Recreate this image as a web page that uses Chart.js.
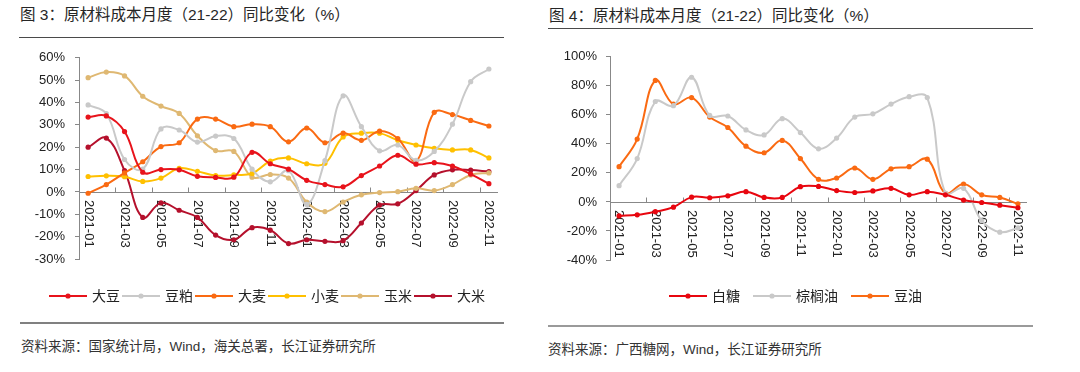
<!DOCTYPE html>
<html>
<head>
<meta charset="utf-8">
<script src="https://cdn.jsdelivr.net/npm/chart.js@4.4.1/dist/chart.umd.min.js"></script>
<style>
  html, body { margin: 0; padding: 0; background: #fff; }
  #wrap { position: relative; width: 1080px; height: 372px; overflow: hidden; background: #fff;
          font-family: "Liberation Sans", "Noto Sans CJK SC", sans-serif; color: #222; }
  .title { position: absolute; font-size: 15.5px; line-height: 20px; white-space: nowrap; color: #262626; }
  .rule { position: absolute; height: 1px; background: #4a4a4a; }
  .sep { position: absolute; height: 2px; background: #808080; }
  .src { position: absolute; font-size: 13.5px; line-height: 18px; white-space: nowrap; color: #333; }
  canvas { position: absolute; }
</style>
</head>
<body>
<div id="wrap">
  <div class="title" style="left:20px; top:5px;">图 3：原材料成本月度（21-22）同比变化（%）</div>
  <div class="rule" style="left:19px; top:37px; width:485px;"></div>
  <div class="title" style="left:549px; top:6px;">图 4：原材料成本月度（21-22）同比变化（%）</div>
  <div class="rule" style="left:548px; top:28px; width:485px;"></div>

  <canvas id="c1" width="540" height="273" style="left:0px; top:40px; width:540px; height:273px;"></canvas>
  <canvas id="c2" width="540" height="273" style="left:540px; top:40px; width:540px; height:273px;"></canvas>

  <div class="sep" style="left:20px; top:322px; width:484px;"></div>
  <div class="sep" style="left:548px; top:325px; width:485px; background:#9a9a9a;"></div>
  <div class="src" style="left:21px; top:338px;">资料来源：国家统计局，Wind，海关总署，长江证券研究所</div>
  <div class="src" style="left:548px; top:341px;">资料来源：广西糖网，Wind，长江证券研究所</div>
</div>
<script>
// ---------- data ----------
const months = ['2021-01','2021-02','2021-03','2021-04','2021-05','2021-06','2021-07','2021-08','2021-09','2021-10','2021-11','2021-12',
                '2022-01','2022-02','2022-03','2022-04','2022-05','2022-06','2022-07','2022-08','2022-09','2022-10','2022-11'];

// Figure 3
const soybean = [33.5, 34, 27, 8.8, 10, 9.9, 7, 6.5, 6.6, 17.7, 12.6, 10.2, 5.2, 3.3, 2.3, 7.3, 11.6, 16.4, 12.4, 13.1, 11.6, 8, 3.7];
const soyMeal = [38.9, 35, 14.5, 10.2, 28.2, 27.7, 22.3, 25, 23.9, 10.2, 4.5, 9.5, -5.6, 14, 43, 29.2, 18.4, 21, 14.1, 18.1, 30.3, 49.3, 55];
const barley  = [-0.6, 3.3, 8.5, 13.5, 20.3, 22, 32.6, 32.6, 29.2, 30.3, 29.2, 22.4, 28.6, 22, 26.3, 23.1, 27.2, 23.9, 13.8, 35.6, 34.6, 32, 29.5];
const wheat   = [6.9, 7.2, 6.8, 4.7, 6.2, 10.6, 9.2, 7.3, 7.6, 8.3, 13.8, 15.2, 12.6, 12.8, 24.6, 26.3, 26.3, 23.1, 21, 19.5, 18.8, 18.8, 15.2];
const corn    = [51.1, 53.6, 51.9, 42.8, 38.4, 35.1, 25.1, 18.5, 18.1, 6.6, 7.8, 6.2, -4.5, -8.8, -4.5, -1.3, -0.3, 0.1, 1.6, 0.6, 3.3, 7.6, 8.5];
const rice    = [20, 24.1, 9.5, -11.4, -4.9, -8.2, -11.4, -19.3, -21.4, -16, -17.1, -23.1, -21.4, -22.1, -21.8, -13.9, -5.9, -5.3, 0.6, 7.6, 9.9, 9.8, 9.1];

// Figure 4
const sugar   = [-9.6, -8.9, -6.7, -3.6, 3.3, 2.9, 4.2, 7.1, 3.1, 3.1, 10.5, 10.7, 7.8, 6.5, 7.6, 9.4, 4.9, 7.1, 4.9, 1.3, -0.4, -2.2, -4];
const palmOil = [11.2, 29.9, 69.2, 66.3, 85.9, 59.6, 59.2, 49.6, 46.2, 57.4, 47.8, 36.6, 44, 58.5, 60.7, 67.4, 72.5, 71.9, 6, 9.4, -12.9, -20.8, -17.9];
const soyOil  = [24.3, 43.3, 83.7, 67.4, 71.9, 58.5, 51.3, 38.4, 33.9, 42.4, 29.9, 15.6, 16.5, 23.4, 15.6, 22.8, 24.3, 29.5, 6, 12.3, 4.9, 3.1, -1.3];

// ---------- helpers ----------
const NUM_FONT = '"Liberation Sans", Arial, sans-serif';
const CJK_FONT = '"Noto Sans CJK SC", "Liberation Sans", sans-serif';

function legendImage(color) {
  const c = document.createElement('canvas');
  c.width = 38; c.height = 10;
  const g = c.getContext('2d');
  g.strokeStyle = color; g.lineWidth = 2;
  g.beginPath(); g.moveTo(0, 5); g.lineTo(38, 5); g.stroke();
  g.fillStyle = color;
  g.beginPath(); g.arc(19, 5, 2.6, 0, Math.PI * 2); g.fill();
  return c;
}

function ds(label, data, color) {
  return {
    label, data,
    borderColor: color, backgroundColor: color,
    borderWidth: 2, tension: 0.4,
    pointRadius: 2.6, pointStyle: 'circle', pointBorderWidth: 0,
    pointBackgroundColor: color, fill: false
  };
}

const catAxisPlugin = {
  id: 'catAxis',
  afterLayout(chart) {
    const dx = chart.options.plugins.catAxis.legendShift || 0;
    if (chart.legend) { chart.legend.left += dx; chart.legend.right += dx; }
  },
  beforeDatasetsDraw(chart) {
    const {ctx, chartArea, scales: {x, y}} = chart;
    const y0 = y.getPixelForValue(0);
    const n = chart.data.labels.length;
    const half = (x.getPixelForValue(1) - x.getPixelForValue(0)) / 2;
    ctx.save();
    ctx.strokeStyle = '#888';
    ctx.lineWidth = 1;
    ctx.beginPath();
    ctx.moveTo(chartArea.left, Math.round(y0) + 0.5);
    ctx.lineTo(chartArea.right, Math.round(y0) + 0.5);
    for (let i = 0; i <= n; i += 2) {
      const bx = Math.round(i < n ? x.getPixelForValue(i) - half : chartArea.right) + 0.5;
      ctx.moveTo(bx, Math.round(y0) + 0.5);
      ctx.lineTo(bx, Math.round(y0) - 4.5);
    }
    ctx.stroke();
    ctx.fillStyle = '#222';
    ctx.font = '13px ' + NUM_FONT;
    ctx.textAlign = 'left';
    ctx.textBaseline = 'middle';
    for (let i = 0; i < n; i += 2) {
      ctx.save();
      ctx.translate(x.getPixelForValue(i), y0 + 8);
      ctx.rotate(Math.PI / 2);
      ctx.fillText(chart.data.labels[i], 0, 0);
      ctx.restore();
    }
    ctx.restore();
  }
};

function makeChart(id, datasets, cfg) {
  const imgs = datasets.map(d => legendImage(d.borderColor));
  return new Chart(document.getElementById(id), {
    type: 'line',
    data: { labels: months, datasets },
    plugins: [catAxisPlugin],
    options: {
      responsive: false,
      animation: false,
      devicePixelRatio: 1,
      layout: { padding: cfg.padding },
      scales: {
        x: {
          type: 'category', offset: true,
          grid: { display: false }, border: { display: false },
          ticks: { display: false },
          afterFit: s => { s.height = cfg.xHeight; }
        },
        y: {
          min: cfg.min, max: cfg.max,
          ticks: { stepSize: cfg.step, callback: v => v + '%', color: '#222',
                   font: { family: NUM_FONT, size: 13 }, padding: cfg.tickPad },
          grid: { drawOnChartArea: false, drawTicks: true, tickLength: 4, color: '#888' },
          border: { display: true, color: '#888', width: 1 },
          afterFit: s => { s.width = cfg.yWidth; }
        }
      },
      plugins: {
        catAxis: { legendShift: cfg.legendShift },
        tooltip: { enabled: false },
        legend: {
          position: 'bottom',
          labels: {
            usePointStyle: true, pointStyleWidth: 34, padding: cfg.legendPad,
            color: '#222', font: { family: CJK_FONT, size: 14 },
            generateLabels: chart => {
              const items = Chart.defaults.plugins.legend.labels.generateLabels(chart);
              items.forEach((it, i) => { it.pointStyle = imgs[i]; });
              return items;
            }
          }
        }
      }
    }
  });
}

makeChart('c1', [
  ds('大豆', soybean, '#E8131B'),
  ds('豆粕', soyMeal, '#C9C9C9'),
  ds('大麦', barley, '#FA6A12'),
  ds('小麦', wheat, '#FFC000'),
  ds('玉米', corn, '#DFB872'),
  ds('大米', rice, '#B5102C')
], { padding: { left: 0, right: 42, top: 11, bottom: 0 }, yWidth: 79, xHeight: 26,
     min: -30, max: 60, step: 10, tickPad: 10, legendPad: 4, legendShift: 19 });

makeChart('c2', [
  ds('白糖', sugar, '#E8060F'),
  ds('棕榈油', palmOil, '#C9C9C9'),
  ds('豆油', soyOil, '#FA6A12')
], { padding: { left: 0, right: 53, top: 11, bottom: 0 }, yWidth: 70, xHeight: 14,
     min: -40, max: 100, step: 20, tickPad: 9, legendPad: 15, legendShift: 13 });
</script>
</body>
</html>
